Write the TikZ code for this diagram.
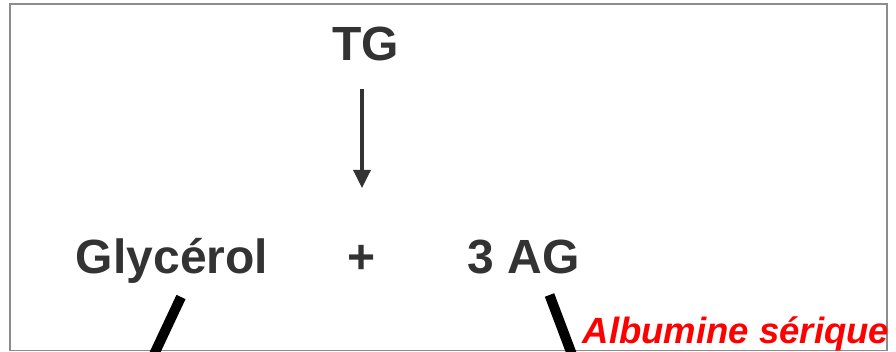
\documentclass[tikz,border=0pt]{standalone}
\usepackage{fontspec}
\setmainfont{Liberation Sans}
\usetikzlibrary{arrows.meta}
\definecolor{txt}{HTML}{333333}
\definecolor{frame}{HTML}{8C8C8C}
\tikzset{
  lbl/.style={inner sep=0pt, anchor=base, text=txt, font=\fontsize{48}{50}\selectfont\bfseries},
  redlbl/.style={inner sep=0pt, anchor=base, text=red, font=\fontsize{36.5}{38}\selectfont\bfseries\itshape},
  bar/.style={line width=10pt, black},
  rxn/.style={line width=3.5pt, txt, -{Triangle[width=17pt,length=18pt]}}
}
\begin{document}
\begin{tikzpicture}[x=1pt,y=-1pt]
\clip (0,0) rectangle (896,352);
\fill[white] (0,0) rectangle (896,352);
\draw[frame, line width=1.5pt] (10,4) rectangle (887,350.5);
\node[lbl] (tg) at (365.5,61) {TG};
\node[lbl] (gly) at (172,274) {Glycérol};
\node[lbl] (plus) at (362,274) {+};
\node[lbl] (ag) at (524,274) {3 AG};
\node[redlbl] (alb) at (736,343) {Albumine sérique};
\coordinate (a1) at (362,89);
\coordinate (a2) at (362,188);
\draw[rxn] (a1) -- (a2);
\coordinate (g1) at (181,297);
\coordinate (g2) at (150,363);
\draw[bar] (g1) -- (g2);
\coordinate (h1) at (549.5,295);
\coordinate (h2) at (574,360);
\draw[bar] (h1) -- (h2);
\end{tikzpicture}
\end{document}
